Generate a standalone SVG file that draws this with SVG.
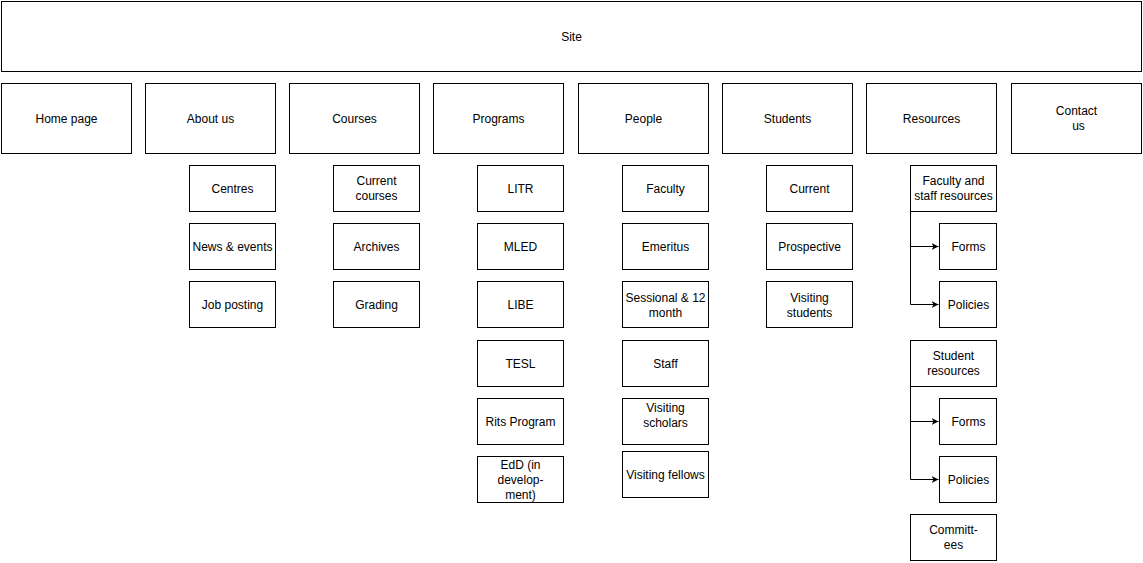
<svg xmlns="http://www.w3.org/2000/svg" width="1143" height="563" viewBox="0 0 1143 563">
<style>
rect{fill:#fff;stroke:#000;stroke-width:1}
text{font-family:"Liberation Sans",Arial,sans-serif;font-size:12px;fill:#000;text-anchor:middle}
.c{fill:none;stroke:#000;stroke-width:1}
</style>
<defs>
<marker id="a" markerWidth="8" markerHeight="8" refX="7" refY="4" orient="auto" markerUnits="userSpaceOnUse">
<path d="M0,0.5 L7,4 L0,7.5 L2,4 Z" fill="#000"/>
</marker>
</defs>
<rect x="0" y="0" width="1143" height="563" style="stroke:none"/>
<g id="site"><rect x="1.5" y="1.5" width="1140" height="70"/><text x="571.5" y="41">Site</text></g>
<g id="home"><rect x="1.5" y="83.5" width="130" height="70"/><text x="66.5" y="123">Home page</text></g>
<g id="about"><rect x="145.5" y="83.5" width="130" height="70"/><text x="210.5" y="123">About us</text></g>
<g id="courses"><rect x="289.5" y="83.5" width="130" height="70"/><text x="354.5" y="123">Courses</text></g>
<g id="programs"><rect x="433.5" y="83.5" width="130" height="70"/><text x="498.5" y="123">Programs</text></g>
<g id="people"><rect x="578.5" y="83.5" width="130" height="70"/><text x="643.5" y="123">People</text></g>
<g id="students"><rect x="722.5" y="83.5" width="130" height="70"/><text x="787.5" y="123">Students</text></g>
<g id="resources"><rect x="866.5" y="83.5" width="130" height="70"/><text x="931.5" y="123">Resources</text></g>
<g id="contact"><rect x="1011.5" y="83.5" width="130" height="70"/><text x="1076.5" y="115">Contact</text><text x="1078.5" y="130">us</text></g>

<g id="centres"><rect x="189.5" y="165.5" width="86" height="46"/><text x="232.5" y="193">Centres</text></g>
<g id="news"><rect x="189.5" y="223.5" width="86" height="46"/><text x="232.5" y="251">News &amp; events</text></g>
<g id="jobs"><rect x="189.5" y="281.5" width="86" height="46"/><text x="232.5" y="309">Job posting</text></g>

<g id="current-courses"><rect x="333.5" y="165.5" width="86" height="46"/><text x="376.5" y="185">Current</text><text x="376.5" y="200">courses</text></g>
<g id="archives"><rect x="333.5" y="223.5" width="86" height="46"/><text x="376.5" y="251">Archives</text></g>
<g id="grading"><rect x="333.5" y="281.5" width="86" height="46"/><text x="376.5" y="309">Grading</text></g>

<g id="litr"><rect x="477.5" y="165.5" width="86" height="46"/><text x="520.5" y="193">LITR</text></g>
<g id="mled"><rect x="477.5" y="223.5" width="86" height="46"/><text x="520.5" y="251">MLED</text></g>
<g id="libe"><rect x="477.5" y="281.5" width="86" height="46"/><text x="520.5" y="309">LIBE</text></g>
<g id="tesl"><rect x="477.5" y="340.5" width="86" height="46"/><text x="520.5" y="368">TESL</text></g>
<g id="rits"><rect x="477.5" y="398.5" width="86" height="46"/><text x="520.5" y="426">Rits Program</text></g>
<g id="edd"><rect x="477.5" y="456.5" width="86" height="46"/><text x="520.5" y="469">EdD (in</text><text x="520.5" y="484">develop-</text><text x="520.5" y="499">ment)</text></g>

<g id="faculty"><rect x="622.5" y="165.5" width="86" height="46"/><text x="665.5" y="193">Faculty</text></g>
<g id="emeritus"><rect x="622.5" y="223.5" width="86" height="46"/><text x="665.5" y="251">Emeritus</text></g>
<g id="sessional"><rect x="622.5" y="281.5" width="86" height="46"/><text x="665.5" y="302">Sessional &amp; 12</text><text x="665.5" y="317">month</text></g>
<g id="staff"><rect x="622.5" y="340.5" width="86" height="46"/><text x="665.5" y="368">Staff</text></g>
<g id="scholars"><rect x="622.5" y="398.5" width="86" height="46"/><text x="665.5" y="412">Visiting</text><text x="665.5" y="427">scholars</text></g>
<g id="fellows"><rect x="622.5" y="451.5" width="86" height="46"/><text x="665.5" y="479">Visiting fellows</text></g>

<g id="current"><rect x="766.5" y="165.5" width="86" height="46"/><text x="809.5" y="193">Current</text></g>
<g id="prospective"><rect x="766.5" y="223.5" width="86" height="46"/><text x="809.5" y="251">Prospective</text></g>
<g id="visiting-students"><rect x="766.5" y="281.5" width="86" height="46"/><text x="809.5" y="302">Visiting</text><text x="809.5" y="317">students</text></g>

<g id="fsr"><rect x="910.5" y="165.5" width="86" height="46"/><text x="953.5" y="185">Faculty and</text><text x="953.5" y="200">staff resources</text></g>
<g id="forms1"><rect x="939.5" y="223.5" width="57" height="46"/><text x="968.5" y="251">Forms</text></g>
<g id="policies1"><rect x="939.5" y="281.5" width="57" height="46"/><text x="968.5" y="309">Policies</text></g>
<g id="sr"><rect x="910.5" y="340.5" width="86" height="46"/><text x="953.5" y="360">Student</text><text x="953.5" y="375">resources</text></g>
<g id="forms2"><rect x="939.5" y="398.5" width="57" height="46"/><text x="968.5" y="426">Forms</text></g>
<g id="policies2"><rect x="939.5" y="456.5" width="57" height="46"/><text x="968.5" y="484">Policies</text></g>
<g id="committees"><rect x="910.5" y="514.5" width="86" height="46"/><text x="953.5" y="534">Committ-</text><text x="953.5" y="549">ees</text></g>

<g id="connectors">
<path class="c" d="M910.5,211.5 V246.5 H938.5" marker-end="url(#a)"/>
<path class="c" d="M910.5,246.5 V304.5 H938.5" marker-end="url(#a)"/>
<path class="c" d="M910.5,386.5 V421.5 H938.5" marker-end="url(#a)"/>
<path class="c" d="M910.5,421.5 V479.5 H938.5" marker-end="url(#a)"/>
</g>
</svg>
